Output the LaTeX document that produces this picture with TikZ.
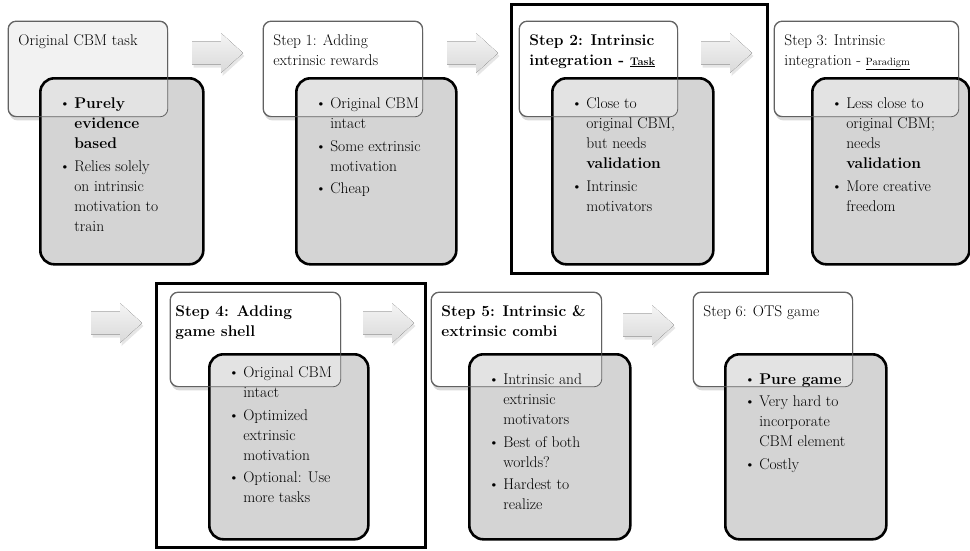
\documentclass[tikz,border=0pt]{standalone}
\usepackage{fontspec}
\usetikzlibrary{shadows}

% bullet item with hanging indent
\newcommand{\itm}[1]{\par\vspace{2.5pt}\hangindent=14pt\hangafter=1\noindent\makebox[14pt][l]{\hspace{-1pt}\textbullet}#1}
% top aligned text block: padding, width, height, text
\newcommand{\boxtext}[4]{\parbox[c][#3][t]{#2}{\vspace*{#1}\raggedright\let\\\newline #4}}

\begin{document}
\begin{tikzpicture}[x=1pt,y=-1pt,
  every node/.style={font=\fontsize{15.5}{20}\selectfont},
  whitebox/.style={draw=black!62, line width=0.8pt, fill=white, rounded corners=8pt,
    anchor=north west, inner xsep=10pt, inner ysep=0pt,
    drop shadow={shadow xshift=1pt, shadow yshift=-4pt, opacity=0.3}},
  titleedge/.style={draw=black!62, line width=0.8pt, rounded corners=8pt},
  graybox/.style={draw=black, line width=2.6pt, fill=black!17, rounded corners=14pt,
    anchor=north west, inner xsep=20pt, inner ysep=0pt,
    path picture={\fill[white, fill opacity=0.35, rounded corners=8pt]
      (#1.north west) rectangle (#1.south east);}},
  blockarrow/.style={top color=black!4, bottom color=black!15,
    drop shadow={shadow xshift=1.5pt, shadow yshift=-3pt, opacity=0.2}},
  stepframe/.style={draw=black, line width=3pt}]

  \useasboundingbox (0,0) rectangle (970,550);

  % Original task
  \node[whitebox, fill=black!5] (t0) at (8,21)
    {\boxtext{13pt}{139pt}{95pt}{Original CBM task}};
  \node[graybox=t0] (g0) at (39,77)
    {\boxtext{17pt}{123pt}{186pt}{%
      \itm{\textbf{Purely\\ evidence\\ based}}
      \itm{Relies solely\\ on intrinsic\\ motivation to\\ train}}};
  \draw[titleedge] (t0.north west) rectangle (t0.south east);

  % Step 1
  \node[whitebox] (t1) at (263,21)
    {\boxtext{13pt}{139pt}{95pt}{Step 1: Adding\\ extrinsic rewards}};
  \node[graybox=t1] (g1) at (295,77)
    {\boxtext{17pt}{120pt}{186pt}{%
      \itm{Original CBM\\ intact}
      \itm{Some extrinsic\\ motivation}
      \itm{Cheap}}};
  \draw[titleedge] (t1.north west) rectangle (t1.south east);

  % Step 2
  \node[whitebox] (t2) at (519,21)
    {\boxtext{13pt}{138pt}{95pt}{\textbf{Step 2: Intrinsic\\ integration - \underline{\fontsize{11}{13}\selectfont Task}}}};
  \node[graybox=t2] (g2) at (551,77)
    {\boxtext{17pt}{121pt}{186pt}{%
      \itm{Close to\\ original CBM,\\ but needs\\ \textbf{validation}}
      \itm{Intrinsic\\ motivators}}};
  \draw[titleedge] (t2.north west) rectangle (t2.south east);

  % Step 3
  \node[whitebox] (t3) at (774,21)
    {\boxtext{13pt}{164pt}{95pt}{Step 3: Intrinsic\\ integration - \underline{\fontsize{10.5}{13}\selectfont Paradigm}}};
  \node[graybox=t3] (g3) at (811,77)
    {\boxtext{17pt}{117pt}{186pt}{%
      \itm{Less close to\\ original CBM;\\ needs\\ \textbf{validation}}
      \itm{More creative\\ freedom}}};
  \draw[titleedge] (t3.north west) rectangle (t3.south east);

  % Step 4
  \node[whitebox, inner xsep=5pt] (t4) at (170,292)
    {\boxtext{13pt}{160pt}{94pt}{\textbf{Step 4: Adding\\ game shell}}};
  \node[graybox=t4] (g4) at (208,353)
    {\boxtext{10pt}{119pt}{185pt}{%
      \itm{Original CBM\\ intact}
      \itm{Optimized\\ extrinsic\\ motivation}
      \itm{Optional: Use\\ more tasks}}};
  \draw[titleedge] (t4.north west) rectangle (t4.south east);

  % Step 5
  \node[whitebox] (t5) at (431,292)
    {\boxtext{13pt}{150pt}{94pt}{\textbf{Step 5: Intrinsic \&\\ extrinsic combi}}};
  \node[graybox=t5] (g5) at (468,353)
    {\boxtext{17pt}{121pt}{185pt}{%
      \itm{Intrinsic and\\ extrinsic\\ motivators}
      \itm{Best of both\\ worlds?}
      \itm{Hardest to\\ realize}}};
  \draw[titleedge] (t5.north west) rectangle (t5.south east);

  % Step 6
  \node[whitebox] (t6) at (693,292)
    {\boxtext{13pt}{139pt}{94pt}{Step 6: OTS game}};
  \node[graybox=t6] (g6) at (724,353)
    {\boxtext{17pt}{121pt}{185pt}{%
      \itm{\textbf{Pure game}}
      \itm{Very hard to\\ incorporate\\ CBM element}
      \itm{Costly}}};
  \draw[titleedge] (t6.north west) rectangle (t6.south east);

  % Block arrows between the steps (centre x/y)
  \foreach \x/\y in {217/53, 472/53, 726/53, 116/323, 388/323, 648/325}
    \fill[blockarrow] (\x-25,\y-11.5) -- (\x+4,\y-11.5) -- (\x+4,\y-20)
      -- (\x+26,\y) -- (\x+4,\y+20) -- (\x+4,\y+11.5) -- (\x-25,\y+11.5) -- cycle;

  % Frames round steps 2 and 4
  \draw[stepframe] (511,4) rectangle (767,273);
  \draw[stepframe] (156,283) rectangle (425,547);

\end{tikzpicture}
\end{document}
